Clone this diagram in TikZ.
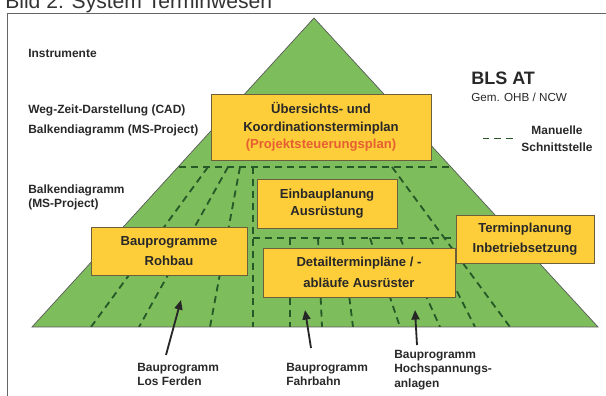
\documentclass[tikz,border=0pt]{standalone}
\usepackage{fontspec}
\setmainfont{Liberation Sans}
\usepackage{tikz}
\usetikzlibrary{arrows.meta, positioning, calc}
\definecolor{PyrGreen}{RGB}{126,189,92}
\definecolor{PlanYellow}{RGB}{253,205,58}
\definecolor{BoxEdge}{RGB}{110,95,60}
\definecolor{CutGreen}{RGB}{38,88,40}
\definecolor{PlanRed}{RGB}{230,95,50}
\definecolor{InkGray}{RGB}{40,40,40}

\begin{document}
\begin{tikzpicture}[font=\fontsize{8.5}{10.2}\selectfont\bfseries,
	bx/.style={draw=BoxEdge, line width=0.6pt, fill=PlanYellow, text=InkGray, align=center, inner sep=2pt, font=\fontsize{9.3}{12.5}\selectfont\bfseries},
	lb/.style={text=InkGray, align=left, inner sep=0pt},
	sn/.style={CutGreen, line width=1.3pt, dash pattern=on 5pt off 3.5pt},
	pf/.style={-{Triangle[length=2.4mm, width=2mm]}, line width=1.3pt, black!85}]

	\useasboundingbox (0,0) rectangle (15.15,9.9);
	\draw[black!60, line width=0.6pt] (0.175,-0.5) -- (0.175,9.575) -- (15.6,9.575);
	\node[anchor=base west, inner sep=0pt, font=\fontsize{15}{18}\selectfont, text=black!80] (title) at (0.125,9.675) {Bild 2: System Terminwesen};

	\coordinate (top) at (7.85,9.45);
	\coordinate (bl) at (0.8,1.725);
	\coordinate (br) at (14.95,1.725);
	\draw[black!65, line width=0.5pt, fill=PyrGreen] (top) -- (bl) -- (br) -- cycle;

	\begin{scope}
		\clip (top) -- (bl) -- (br) -- cycle;
		\draw[sn] (0,5.725) -- (15,5.725);
		\draw[sn] (5.2,5.725) -- (2.275,1.725);
		\draw[sn] (5.7,5.725) -- (3.475,1.725);
		\draw[sn] (6.0,5.725) -- (5.25,1.725);
		\draw[sn] (6.325,5.725) -- (6.325,1.725);
		\draw[sn] (6.325,3.95) -- (11.4,3.95);
		\draw[sn] (7.25,3.95) -- (7.25,1.725);
		\draw[sn] (7.95,3.95) -- (8.05,1.725);
		\draw[sn] (8.55,3.95) -- (8.825,1.725);
		\draw[sn] (9.25,3.95) -- (10.0,1.725);
		\draw[sn] (10.0,3.95) -- (11.0,1.725);
		\draw[sn] (10.75,3.95) -- (11.875,1.725);
		\draw[sn] (9.8,5.725) -- (12.75,1.725);
	\end{scope}

	\node[bx, minimum width=5.5cm, minimum height=1.65cm] (ueb) at (8.025,6.725) {Übersichts- und\\Koordinationsterminplan\\\textcolor{PlanRed}{(Projektsteuerungsplan)}};
	\node[bx, minimum width=3.5cm, minimum height=1.225cm] (einb) at (8.175,4.8125) {Einbauplanung\\Ausrüstung};
	\node[bx, minimum width=3.9cm, minimum height=1.2cm] (roh) at (4.225,3.625) {Bauprogramme\\[2pt]Rohbau};
	\node[bx, minimum width=4.8cm, minimum height=1.225cm] (det) at (8.975,3.0875) {Detailterminpläne / -\\[2pt]abläufe Ausrüster};
	\node[bx, minimum width=3.45cm, minimum height=1.2cm] (inb) at (13.125,3.925) {Terminplanung\\[2pt]Inbetriebsetzung};

	\node[lb, anchor=west] (instr) at (0.7,8.575) {Instrumente};
	\node[lb, anchor=west] (wzd) at (0.7,7.15) {Weg-Zeit-Darstellung (CAD)};
	\node[lb, anchor=west] (bk1) at (0.7,6.65) {Balkendiagramm (MS-Project)};
	\node[lb, anchor=west] (bk2) at (0.7,4.9625) {Balkendiagramm\\(MS-Project)};

	\node[lb, anchor=west, font=\fontsize{12.8}{15}\selectfont\bfseries] (bls) at (11.775,7.95) {BLS AT};
	\node[lb, anchor=west, font=\fontsize{8.3}{10}\selectfont\mdseries] (gem) at (11.775,7.475) {Gem. OHB / NCW};
	\node[lb, align=center, font=\fontsize{8.5}{12}\selectfont\bfseries] (leg) at (13.925,6.4375) {Manuelle\\Schnittstelle};
	\draw[sn] ($(leg.west)+(-0.2,0)$) -- ++(-0.75,0);

	\node[lb, anchor=north west] (lf) at (3.425,0.825) {Bauprogramm\\Los Ferden};
	\node[lb, anchor=north west] (fb) at (7.15,0.825) {Bauprogramm\\Fahrbahn};
	\node[lb, anchor=north west] (hs) at (9.85,1.15) {Bauprogramm\\Hochspannungs-\\anlagen};

	\coordinate (t1) at (4.525,2.4);
	\coordinate (t2) at (7.625,2.15);
	\coordinate (t3) at (10.375,2.15);
	\draw[pf] ($(lf.north west)+(0.725,0.2)$) -- (t1);
	\draw[pf] ($(fb.north west)+(0.625,0.375)$) -- (t2);
	\draw[pf] ($(hs.north west)+(0.575,0.125)$) -- (t3);
\end{tikzpicture}
\end{document}
